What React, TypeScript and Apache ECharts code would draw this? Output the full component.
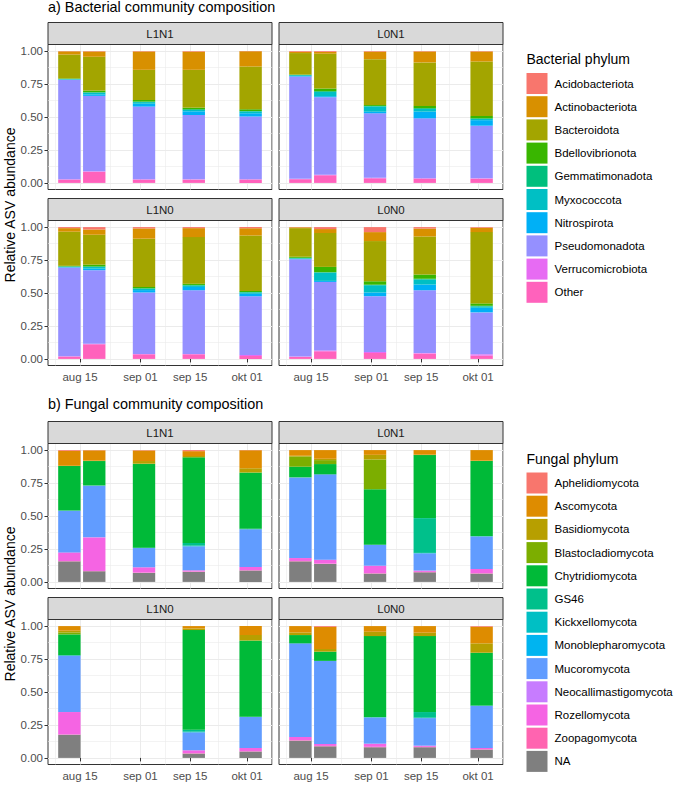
import React, { useEffect, useRef } from 'react';
import * as echarts from 'echarts';

// Sampling dates (bar centres) and date-axis breaks
const sampleDates = ['2022-08-12T00:00Z', '2022-08-19T00:00Z', '2022-09-02T00:00Z', '2022-09-16T00:00Z', '2022-10-02T00:00Z'];
const xTickDates = ['2022-08-15T00:00Z', '2022-09-01T00:00Z', '2022-09-15T00:00Z', '2022-10-01T00:00Z'];
const xTickLabels = ['aug 15', 'sep 01', 'sep 15', 'okt 01'];
const xMinorDates = ['2022-08-08T00:00Z', '2022-08-23T12:00Z', '2022-09-08T00:00Z', '2022-09-23T00:00Z', '2022-10-08T00:00Z'];
const yTicks = [0, 0.25, 0.5, 0.75, 1];
const yMinorTicks = [0.125, 0.375, 0.625, 0.875];

const facetNames = ['L1N1', 'L0N1', 'L1N0', 'L0N0'];

// Bacterial phyla, legend order (top of stack first)
const bactPhyla = ['Acidobacteriota', 'Actinobacteriota', 'Bacteroidota', 'Bdellovibrionota', 'Gemmatimonadota', 'Myxococcota', 'Nitrospirota', 'Pseudomonadota', 'Verrucomicrobiota', 'Other'];
const bactColors = ['#F8766D', '#D89000', '#A3A500', '#39B600', '#00BF7D', '#00BFC4', '#00B0F6', '#9590FF', '#E76BF3', '#FF62BC'];

// Fungal phyla, legend order (top of stack first)
const fungPhyla = ['Aphelidiomycota', 'Ascomycota', 'Basidiomycota', 'Blastocladiomycota', 'Chytridiomycota', 'GS46', 'Kickxellomycota', 'Monoblepharomycota', 'Mucoromycota', 'Neocallimastigomycota', 'Rozellomycota', 'Zoopagomycota', 'NA'];
const fungColors = ['#F8766D', '#DE8C00', '#B79F00', '#7CAE00', '#00BA38', '#00C08B', '#00BFC4', '#00B4F0', '#619CFF', '#C77CFF', '#F564E3', '#FF64B0', '#7F7F7F'];

// Relative abundances: one row per sampling date, columns in bactPhyla order
const bactL1N1 = [
  [0.002, 0.024, 0.181, 0.004, 0.002, 0.003, 0.002, 0.754, 0.003, 0.025],
  [0.003, 0.040, 0.257, 0.012, 0.003, 0.013, 0.012, 0.572, 0.004, 0.084],
  [0.003, 0.139, 0.229, 0.012, 0.004, 0.012, 0.022, 0.551, 0.003, 0.025],
  [0.004, 0.138, 0.287, 0.012, 0.006, 0.010, 0.028, 0.488, 0.002, 0.025],
  [0.002, 0.115, 0.325, 0.012, 0.005, 0.013, 0.025, 0.475, 0.003, 0.025],
];
const bactL0N1 = [
  [0.005, 0.010, 0.163, 0.003, 0.002, 0.006, 0.004, 0.776, 0.003, 0.028],
  [0.006, 0.014, 0.264, 0.020, 0.006, 0.032, 0.008, 0.588, 0.004, 0.058],
  [0.004, 0.057, 0.348, 0.007, 0.004, 0.040, 0.012, 0.489, 0.004, 0.035],
  [0.003, 0.083, 0.330, 0.017, 0.006, 0.020, 0.051, 0.454, 0.003, 0.033],
  [0.003, 0.076, 0.413, 0.018, 0.005, 0.009, 0.042, 0.399, 0.003, 0.032],
];
const bactL1N0 = [
  [0.008, 0.027, 0.259, 0.004, 0.002, 0.004, 0.003, 0.673, 0.002, 0.018],
  [0.018, 0.040, 0.227, 0.013, 0.005, 0.012, 0.012, 0.558, 0.004, 0.111],
  [0.010, 0.078, 0.366, 0.010, 0.004, 0.010, 0.018, 0.466, 0.003, 0.035],
  [0.008, 0.068, 0.353, 0.010, 0.005, 0.010, 0.025, 0.483, 0.003, 0.035],
  [0.008, 0.055, 0.421, 0.008, 0.004, 0.010, 0.018, 0.446, 0.008, 0.022],
];
const bactL0N0 = [
  [0.002, 0.006, 0.217, 0.008, 0.004, 0.004, 0.003, 0.738, 0.002, 0.016],
  [0.015, 0.030, 0.257, 0.040, 0.003, 0.063, 0.008, 0.520, 0.006, 0.058],
  [0.038, 0.068, 0.305, 0.026, 0.004, 0.055, 0.028, 0.423, 0.008, 0.045],
  [0.011, 0.060, 0.289, 0.032, 0.006, 0.038, 0.043, 0.477, 0.004, 0.040],
  [0.005, 0.033, 0.541, 0.018, 0.005, 0.010, 0.035, 0.318, 0.010, 0.025],
];

// Relative abundances: one row per sampling date, columns in fungPhyla order (null = no sample)
const fungL1N1 = [
  [0.006, 0.113, 0.002, 0, 0.338, 0.002, 0, 0, 0.315, 0, 0.066, 0.002, 0.156],
  [0.002, 0.078, 0.003, 0, 0.185, 0.002, 0, 0, 0.392, 0, 0.255, 0.002, 0.081],
  [0.003, 0.080, 0.020, 0.003, 0.634, 0.003, 0, 0, 0.146, 0, 0.040, 0.003, 0.068],
  [0.008, 0.037, 0.010, 0, 0.650, 0.020, 0.005, 0, 0.182, 0, 0.009, 0.003, 0.076],
  [0.002, 0.136, 0.030, 0.003, 0.426, 0.003, 0, 0, 0.287, 0, 0.025, 0.002, 0.086],
];
const fungL0N1 = [
  [0, 0.043, 0.005, 0.078, 0.081, 0, 0, 0, 0.612, 0, 0.022, 0.003, 0.156],
  [0, 0.066, 0.010, 0.030, 0.078, 0, 0, 0, 0.647, 0, 0.030, 0.003, 0.136],
  [0, 0.036, 0.035, 0.226, 0.421, 0, 0, 0, 0.159, 0, 0.057, 0.003, 0.063],
  [0, 0.035, 0.003, 0, 0.478, 0.264, 0.003, 0, 0.131, 0, 0.010, 0.003, 0.073],
  [0, 0.080, 0.003, 0, 0.569, 0.003, 0, 0, 0.247, 0, 0.032, 0.003, 0.063],
];
const fungL1N0 = [
  [0, 0.035, 0.013, 0.015, 0.157, 0.004, 0, 0, 0.428, 0, 0.170, 0.002, 0.176],
  null,
  null,
  [0, 0.018, 0.012, 0, 0.756, 0.015, 0.005, 0, 0.136, 0, 0.022, 0.003, 0.033],
  [0, 0.068, 0.040, 0.003, 0.576, 0.003, 0, 0, 0.234, 0, 0.025, 0.003, 0.048],
];
const fungL0N0 = [
  [0, 0.048, 0.020, 0, 0.063, 0, 0, 0, 0.710, 0, 0.025, 0.003, 0.131],
  [0.006, 0.168, 0.020, 0, 0.070, 0, 0, 0, 0.630, 0, 0.015, 0.003, 0.088],
  [0, 0.043, 0.033, 0, 0.614, 0.003, 0, 0, 0.199, 0, 0.024, 0.003, 0.081],
  [0, 0.050, 0.026, 0, 0.576, 0.043, 0.003, 0, 0.209, 0, 0.009, 0.003, 0.081],
  [0.005, 0.126, 0.071, 0, 0.400, 0.003, 0, 0, 0.319, 0, 0.010, 0.003, 0.063],
];

const FONT = "Arial, 'Liberation Sans', sans-serif";
const DAY = 86400000;

type Section = {
  title: string;
  legendTitle: string;
  phyla: string[];
  colors: string[];
  panels: (number[] | null)[][];
  plotTops: number[];
};

const sections: Section[] = [
  {
    title: 'a) Bacterial community composition',
    legendTitle: 'Bacterial phylum',
    phyla: bactPhyla,
    colors: bactColors,
    panels: [bactL1N1, bactL0N1, bactL1N0, bactL0N0],
    plotTops: [44.5, 220.5],
  },
  {
    title: 'b) Fungal community composition',
    legendTitle: 'Fungal phylum',
    phyla: fungPhyla,
    colors: fungColors,
    panels: [fungL1N1, fungL0N1, fungL1N0, fungL0N0],
    plotTops: [443.5, 619.5],
  },
];

// Layout
const colLefts = [48, 279];
const panelW = 224;
const panelH = 145;
const stripH = 22;
const legendLeft = 526.5;
const legendTops = [73, 472.5];
const titleYs = [7.5, 405];
const legendTitleYs = [60, 459.5];

function buildOption() {
  const t = sampleDates.map((d) => Date.parse(d));
  const ticks = xTickDates.map((d) => Date.parse(d));
  const minors = xMinorDates.map((d) => Date.parse(d));
  const half = 0.45 * 7 * DAY; // bar half-width (0.9 of the 7-day resolution)
  const lo = t[0] - half;
  const hi = t[t.length - 1] + half;
  const pad = 0.05 * (hi - lo);
  const xMin = lo - pad;
  const xMax = hi + pad;

  // one stacked segment: [date, lower, upper]
  const renderSegment = (params: any, api: any) => {
    const x = api.value(0);
    const p0 = api.coord([x - half, api.value(2)]);
    const p1 = api.coord([x + half, api.value(1)]);
    return {
      type: 'rect',
      shape: { x: p0[0], y: p0[1], width: p1[0] - p0[0], height: p1[1] - p0[1] },
      style: { fill: api.visual('color') },
    };
  };

  const grids: any[] = [];
  const xAxes: any[] = [];
  const yAxes: any[] = [];
  const series: any[] = [];
  const graphics: any[] = [];
  const legends: any[] = [];

  sections.forEach((sec, si) => {
    graphics.push({
      type: 'text',
      left: 48,
      top: titleYs[si] - 8,
      style: { text: sec.title, fontSize: 14.4, fontFamily: FONT, fill: '#000' },
    });
    graphics.push({
      type: 'text',
      x: 10,
      y: (sec.plotTops[0] + sec.plotTops[1] + panelH) / 2,
      rotation: Math.PI / 2,
      style: {
        text: 'Relative ASV abundance',
        fontSize: 14,
        fontFamily: FONT,
        fill: '#000',
        align: 'center',
        verticalAlign: 'middle',
      },
    });
    graphics.push({
      type: 'text',
      left: legendLeft,
      top: legendTitleYs[si] - 8,
      style: { text: sec.legendTitle, fontSize: 14, fontFamily: FONT, fill: '#000' },
    });

    legends.push({
      orient: 'vertical',
      left: legendLeft,
      top: legendTops[si],
      padding: 0,
      itemWidth: 21,
      itemHeight: 21,
      itemGap: 2.2,
      icon: 'rect',
      selectedMode: false,
      data: sec.phyla,
      textStyle: { fontSize: 11.5, fontFamily: FONT, color: '#000', padding: [0, 0, 0, 2] },
    });

    sec.panels.forEach((rows, fi) => {
      const gi = si * 4 + fi;
      const col = fi % 2;
      const row = Math.floor(fi / 2);
      const left = colLefts[col];
      const top = sec.plotTops[row];

      grids.push({
        left,
        top,
        width: panelW,
        height: panelH,
        show: true,
        backgroundColor: '#fff',
        borderColor: '#333',
        borderWidth: 1,
        containLabel: false,
      });

      // facet strip
      graphics.push({
        type: 'rect',
        shape: { x: left, y: top - stripH, width: panelW, height: stripH },
        style: { fill: '#D9D9D9', stroke: '#333', lineWidth: 1 },
        z: 10,
      });
      graphics.push({
        type: 'text',
        x: left + panelW / 2,
        y: top - stripH / 2,
        style: {
          text: facetNames[fi],
          fontSize: 11.5,
          fontFamily: FONT,
          fill: '#1A1A1A',
          align: 'center',
          verticalAlign: 'middle',
        },
        z: 11,
      });

      const showX = row === 1;
      const showY = col === 0;

      // major x axis (dates as UTC timestamps)
      xAxes.push({
        type: 'value',
        gridIndex: gi,
        min: xMin,
        max: xMax,
        axisLine: { show: false },
        axisTick: { show: showX, customValues: ticks, length: 3.5, lineStyle: { color: '#333', width: 1 } },
        axisLabel: {
          show: showX,
          customValues: ticks,
          margin: 5,
          fontSize: 11.5,
          fontFamily: FONT,
          color: '#4D4D4D',
          formatter: (v: number) => {
            const k = ticks.findIndex((x) => Math.abs(x - v) < DAY / 2);
            return k >= 0 ? xTickLabels[k] : '';
          },
        },
        splitLine: { show: true, lineStyle: { color: '#EBEBEB', width: 1 } },
      });
      // minor x axis (grid lines only)
      xAxes.push({
        type: 'value',
        gridIndex: gi,
        min: xMin,
        max: xMax,
        axisLine: { show: false },
        axisTick: { show: false, customValues: minors },
        axisLabel: { show: false, customValues: minors },
        splitLine: { show: true, lineStyle: { color: '#EBEBEB', width: 0.6 } },
      });
      // major y axis
      yAxes.push({
        type: 'value',
        gridIndex: gi,
        min: -0.05,
        max: 1.05,
        axisLine: { show: false },
        axisTick: { show: showY, customValues: yTicks, length: 3.5, lineStyle: { color: '#333', width: 1 } },
        axisLabel: {
          show: showY,
          customValues: yTicks,
          margin: 5,
          fontSize: 11.5,
          fontFamily: FONT,
          color: '#4D4D4D',
          formatter: (v: number) => v.toFixed(2),
        },
        splitLine: { show: true, lineStyle: { color: '#EBEBEB', width: 1 } },
      });
      // minor y axis (grid lines only)
      yAxes.push({
        type: 'value',
        gridIndex: gi,
        min: -0.05,
        max: 1.05,
        axisLine: { show: false },
        axisTick: { show: false, customValues: yMinorTicks },
        axisLabel: { show: false, customValues: yMinorTicks },
        splitLine: { show: true, lineStyle: { color: '#EBEBEB', width: 0.6 } },
      });

      // stacked segments, built from the bottom of the stack (last phylum in legend order) upward
      const base = rows.map(() => 0);
      for (let p = sec.phyla.length - 1; p >= 0; p--) {
        const data: any[] = [];
        rows.forEach((r, i) => {
          if (!r) return;
          const y0 = base[i];
          const y1 = y0 + r[p];
          base[i] = y1;
          data.push([t[i], y0, y1]);
        });
        series.push({
          type: 'custom',
          name: sec.phyla[p],
          xAxisIndex: 2 * gi,
          yAxisIndex: 2 * gi,
          renderItem: renderSegment,
          encode: { x: 0, y: [1, 2] },
          data,
          itemStyle: { color: sec.colors[p] },
          silent: true,
          z: 3,
        });
      }
    });
  });

  return {
    animation: false,
    backgroundColor: '#fff',
    textStyle: { fontFamily: FONT },
    grid: grids,
    xAxis: xAxes,
    yAxis: yAxes,
    legend: legends,
    series,
    graphic: graphics,
  };
}

export default function App() {
  const ref = useRef<HTMLDivElement>(null);
  useEffect(() => {
    document.body.style.margin = '0';
    if (!ref.current) return;
    const chart = echarts.init(ref.current, undefined, { renderer: 'svg' });
    chart.setOption(buildOption() as any);
    return () => chart.dispose();
  }, []);
  return <div ref={ref} style={{ width: 678, height: 785, background: '#fff' }} />;
}
